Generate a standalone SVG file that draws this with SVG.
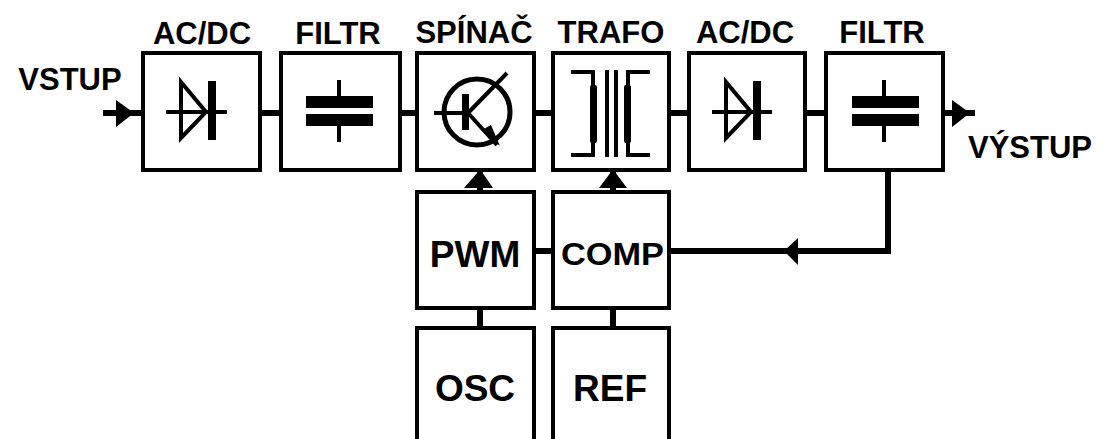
<svg xmlns="http://www.w3.org/2000/svg" width="1101" height="439" viewBox="0 0 1101 439">
<style>
.b{fill:#fff;stroke:#000;stroke-width:4}
.w{fill:none;stroke:#000;stroke-width:6}
.s{fill:none;stroke:#000;stroke-width:4}
.k{fill:#000;stroke:none}
text{font-family:"Liberation Sans",Arial,sans-serif;font-weight:bold;fill:#000}
.t{font-size:31px}
.m{font-size:37px;text-anchor:middle}
.l{font-size:31px;text-anchor:middle}
</style>
<rect width="1101" height="439" fill="#fff"/>
<g id="connectors">
<path class="w" d="M103 113H143M262 113H280M535 113H552M671 113H688M807 113H825M945 113H975M399 113H416"/>
<path class="k" d="M116 100L134 113L116 127Z"/>
<path class="k" d="M952 100L970 113L952 127Z"/>
<path class="w" d="M480 172V190M613 172V190M535 251H552M480 310V326M613 310V326"/>
<path class="k" d="M464 188L478 172H482L493 188Z"/>
<path class="k" d="M599 188L611 172H615L627 188Z"/>
<path class="w" d="M671 251H888V172"/>
<path class="k" d="M784 251L798 238V265Z"/>
</g>
<g id="ac-dc-1"><rect class="b" x="143" y="53" width="117" height="117"/>
<path class="s" d="M181 82L206 112L181 138ZM166 112H227"/><rect class="k" x="208" y="81" width="8" height="59"/></g>
<g id="filtr-1"><rect class="b" x="281" y="53" width="119" height="117"/>
<path class="s" d="M339 80V105M339 120V142"/><rect class="k" x="306" y="96" width="67" height="12"/><rect class="k" x="306" y="114" width="67" height="12"/></g>
<g id="spinac"><rect class="b" x="417" y="53" width="117" height="117"/>
<circle cx="477" cy="112" r="33" fill="none" stroke="#000" stroke-width="5"/>
<path class="s" d="M434 113H464M468 113L507 73M468 113L497 145"/><rect class="k" x="462" y="94" width="7" height="36"/><path class="k" d="M482 130L491 125L500 146Z"/></g>
<g id="trafo"><rect class="b" x="553" y="53" width="116" height="117"/>
<path class="s" d="M571 72H593V155H571M650 72H628V155H650M607 70V157M616 70V157"/>
<rect class="k" x="590" y="85" width="7" height="58" rx="2"/><rect class="k" x="624" y="85" width="7" height="58" rx="2"/></g>
<g id="ac-dc-2"><rect class="b" x="689" y="53" width="116" height="117"/>
<path class="s" d="M726 82L751 112L726 138ZM712 112H772"/><rect class="k" x="753" y="81" width="8" height="59"/></g>
<g id="filtr-2"><rect class="b" x="826" y="53" width="117" height="117"/>
<path class="s" d="M884 80V105M884 120V142"/><rect class="k" x="852" y="96" width="67" height="12"/><rect class="k" x="852" y="114" width="67" height="12"/></g>
<g id="pwm"><rect class="b" x="417" y="192" width="117" height="116"/><text class="m" x="475" y="267">PWM</text></g>
<g id="comp"><rect class="b" x="553" y="192" width="116" height="116"/><text x="561" y="265" font-size="31" textLength="103" lengthAdjust="spacingAndGlyphs">COMP</text></g>
<g id="osc"><path class="b" d="M417 441V328H534V441"/><text class="m" x="475" y="401">OSC</text></g>
<g id="ref"><path class="b" d="M553 441V328H669V441"/><text class="m" x="610" y="401">REF</text></g>
<g id="labels">
<text class="l" x="202" y="44">AC/DC</text>
<text class="l" x="338" y="44">FILTR</text>
<text class="l" x="474" y="43">SPÍNAČ</text>
<text class="l" x="611" y="43">TRAFO</text>
<text class="l" x="745" y="43">AC/DC</text>
<text class="l" x="882" y="43">FILTR</text>
<text class="l" x="70" y="90">VSTUP</text>
<text class="l" x="1030" y="158">VÝSTUP</text>
</g>
</svg>
